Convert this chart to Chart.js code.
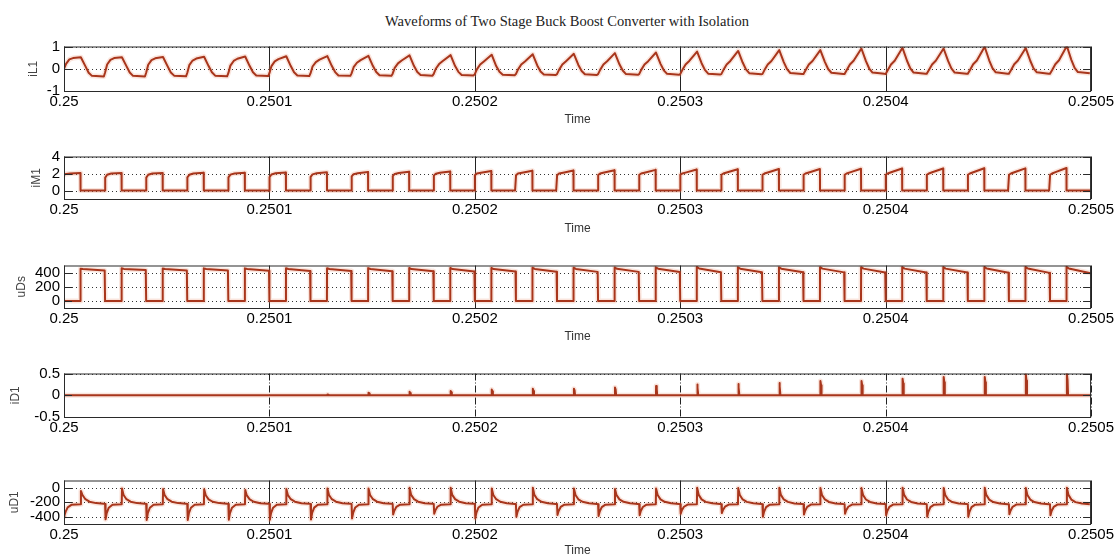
<!DOCTYPE html>
<html>
<head>
<meta charset="utf-8">
<title>Waveforms of Two Stage Buck Boost Converter with Isolation</title>
<script src="https://cdn.jsdelivr.net/npm/chart.js@4.4.0/dist/chart.umd.min.js"></script>
<style>
  body { margin: 0; background: #fff; width: 1116px; height: 558px; position: relative; overflow: hidden; }
  .fig-title { position: absolute; left: 9px; width: 1116px; top: 13px; line-height: 16px; text-align: center;
               font-family: 'Liberation Serif', 'Times New Roman', serif; font-size: 14.5px; color: #222; }
  canvas { position: absolute; left: 0; }
</style>
</head>
<body>
<div class="fig-title">Waveforms of Two Stage Buck Boost Converter with Isolation</div>
<canvas id="iL1Chart" width="1116" height="92" style="top:35px"></canvas>
<canvas id="iM1Chart" width="1116" height="91" style="top:145px"></canvas>
<canvas id="uDsChart" width="1116" height="90" style="top:254px"></canvas>
<canvas id="iD1Chart" width="1116" height="85" style="top:362px"></canvas>
<canvas id="uD1Chart" width="1116" height="89" style="top:469px"></canvas>
<script>
// time axis (25 switching cycles of 20 us)
const startTime = 0.25;
const period = 0.00002;
const timeTicks = [0.25, 0.2501, 0.2502, 0.2503, 0.2504, 0.2505];
const timeTickLabels = ['0.25', '0.2501', '0.2502', '0.2503', '0.2504', '0.2505'];

// iL1 - phase of each point in a cycle, one row of values per cycle
const iL1Range = [-1, 1];
const iL1Ticks = [-1, 0, 1];
const iL1TickLabels = ['-1', '0', '1'];
const iL1Phase = [0.00, 0.05, 0.13, 0.22, 0.41, 0.52, 0.60, 0.68, 0.97];
const iL1Cycles = [
  [0.00, 0.22, 0.42, 0.48, 0.52, 0.12, -0.18, -0.32, -0.35],
  [-0.17, 0.19, 0.40, 0.48, 0.52, 0.12, -0.17, -0.32, -0.35],
  [-0.18, 0.18, 0.39, 0.47, 0.53, 0.12, -0.17, -0.31, -0.34],
  [-0.19, 0.16, 0.37, 0.46, 0.54, 0.12, -0.16, -0.31, -0.34],
  [-0.20, 0.14, 0.35, 0.45, 0.55, 0.12, -0.16, -0.30, -0.33],
  [-0.20, 0.12, 0.33, 0.43, 0.56, 0.12, -0.16, -0.30, -0.33],
  [-0.21, 0.10, 0.30, 0.41, 0.57, 0.12, -0.15, -0.30, -0.32],
  [-0.21, 0.07, 0.27, 0.39, 0.58, 0.12, -0.15, -0.29, -0.32],
  [-0.22, 0.04, 0.24, 0.37, 0.60, 0.12, -0.15, -0.28, -0.31],
  [-0.23, 0.00, 0.21, 0.35, 0.61, 0.12, -0.14, -0.28, -0.30],
  [-0.24, -0.03, 0.19, 0.33, 0.63, 0.12, -0.14, -0.27, -0.29],
  [-0.24, -0.04, 0.19, 0.33, 0.65, 0.15, -0.12, -0.26, -0.28],
  [-0.24, -0.05, 0.19, 0.34, 0.67, 0.17, -0.10, -0.25, -0.28],
  [-0.24, -0.05, 0.19, 0.34, 0.70, 0.20, -0.08, -0.24, -0.27],
  [-0.24, -0.05, 0.19, 0.34, 0.73, 0.22, -0.07, -0.23, -0.27],
  [-0.24, -0.06, 0.19, 0.35, 0.77, 0.25, -0.05, -0.22, -0.26],
  [-0.24, -0.06, 0.19, 0.35, 0.80, 0.28, -0.03, -0.20, -0.25],
  [-0.24, -0.06, 0.19, 0.35, 0.84, 0.30, -0.02, -0.19, -0.24],
  [-0.24, -0.07, 0.19, 0.35, 0.84, 0.31, -0.01, -0.18, -0.24],
  [-0.24, -0.07, 0.19, 0.36, 0.91, 0.34, 0.01, -0.17, -0.23],
  [-0.24, -0.07, 0.19, 0.36, 0.94, 0.36, 0.02, -0.17, -0.22],
  [-0.23, -0.07, 0.19, 0.36, 0.91, 0.35, 0.02, -0.17, -0.22],
  [-0.23, -0.07, 0.20, 0.37, 0.99, 0.38, 0.03, -0.16, -0.22],
  [-0.23, -0.07, 0.20, 0.37, 0.93, 0.36, 0.02, -0.16, -0.22],
  [-0.23, -0.07, 0.20, 0.38, 1.02, 0.40, 0.04, -0.15, -0.20]
];

// iM1 (switch current)
const iM1Range = [-1, 4];
const iM1Ticks = [0, 2, 4];
const iM1TickLabels = ['0', '2', '4'];
const iM1Phase = [0.00, 0.003, 0.05, 0.15, 0.40, 0.403, 0.98];
const iM1Cycles = [
  [1.85, 1.85, 1.95, 2.00, 2.05, 0, 0],
  [0, 1.52, 1.85, 2.00, 2.05, 0, 0],
  [0, 1.52, 1.85, 2.00, 2.06, 0, 0],
  [0, 1.55, 1.85, 2.00, 2.08, 0, 0],
  [0, 1.55, 1.87, 2.01, 2.10, 0, 0],
  [0, 1.58, 1.88, 2.02, 2.12, 0, 0],
  [0, 1.60, 1.90, 2.03, 2.14, 0, 0],
  [0, 1.65, 1.92, 2.04, 2.17, 0, 0],
  [0, 1.70, 1.95, 2.06, 2.20, 0, 0],
  [0, 1.75, 1.98, 2.08, 2.24, 0, 0],
  [0, 1.79, 2.00, 2.10, 2.29, 0, 0],
  [0, 1.80, 2.00, 2.10, 2.32, 0, 0],
  [0, 1.80, 2.00, 2.10, 2.35, 0, 0],
  [0, 1.82, 2.00, 2.12, 2.39, 0, 0],
  [0, 1.85, 2.00, 2.12, 2.43, 0, 0],
  [0, 1.88, 2.00, 2.13, 2.48, 0, 0],
  [0, 1.85, 2.00, 2.14, 2.50, 0, 0],
  [0, 1.85, 2.00, 2.15, 2.52, 0, 0],
  [0, 1.85, 2.00, 2.15, 2.53, 0, 0],
  [0, 1.85, 2.00, 2.16, 2.56, 0, 0],
  [0, 1.85, 2.00, 2.17, 2.58, 0, 0],
  [0, 1.85, 2.00, 2.17, 2.58, 0, 0],
  [0, 1.85, 2.00, 2.18, 2.62, 0, 0],
  [0, 1.85, 2.00, 2.18, 2.60, 0, 0],
  [0, 1.85, 2.00, 2.19, 2.64, 0, 0]
];

// uDs (switch voltage)
const uDsRange = [-100, 500];
const uDsTicks = [0, 200, 400];
const uDsTickLabels = ['0', '200', '400'];
const uDsPhase = [0.00, 0.40, 0.403, 0.46, 0.99];
const uDsCycles = [
  [0, 0, 455, 450, 430], [0, 0, 460, 452, 435], [0, 0, 458, 450, 430],
  [0, 0, 460, 450, 428], [0, 0, 460, 450, 425], [0, 0, 462, 450, 424],
  [0, 0, 462, 450, 422], [0, 0, 463, 450, 420], [0, 0, 465, 450, 418],
  [0, 0, 465, 450, 416], [0, 0, 466, 450, 414], [0, 0, 468, 452, 412],
  [0, 0, 470, 452, 410], [0, 0, 472, 453, 410], [0, 0, 475, 455, 408],
  [0, 0, 480, 458, 406], [0, 0, 475, 455, 405], [0, 0, 475, 455, 404],
  [0, 0, 476, 456, 403], [0, 0, 476, 456, 402], [0, 0, 478, 456, 401],
  [0, 0, 478, 456, 400], [0, 0, 480, 458, 398], [0, 0, 480, 457, 396],
  [0, 0, 482, 458, 392]
];

// iD1 (diode current spikes)
const iD1Range = [-0.5, 0.5];
const iD1Ticks = [-0.5, 0, 0.5];
const iD1TickLabels = ['-0.5', '0', '0.5'];
const iD1Phase = [0.00, 0.41, 0.412, 0.428, 0.44, 0.98];
const iD1Cycles = [
  [0, 0, 0, 0, 0, 0], [0, 0, 0, 0, 0, 0], [0, 0, 0, 0, 0, 0],
  [0, 0, 0, 0, 0, 0], [0, 0, 0, 0, 0, 0], [0, 0, 0, 0, 0, 0],
  [0, 0, 0.02, 0.01, 0, 0], [0, 0, 0.06, 0.04, 0, 0], [0, 0, 0.08, 0.05, 0, 0],
  [0, 0, 0.10, 0.07, 0, 0], [0, 0, 0.13, 0.09, 0, 0], [0, 0, 0.15, 0.10, 0, 0],
  [0, 0, 0.15, 0.11, 0, 0], [0, 0, 0.18, 0.13, 0, 0], [0, 0, 0.21, 0.14, 0, 0],
  [0, 0, 0.25, 0.17, 0, 0], [0, 0, 0.26, 0.18, 0, 0], [0, 0, 0.28, 0.20, 0, 0],
  [0, 0, 0.33, 0.23, 0, 0], [0, 0, 0.33, 0.23, 0, 0], [0, 0, 0.38, 0.27, 0, 0],
  [0, 0, 0.42, 0.30, 0, 0], [0, 0, 0.42, 0.30, 0, 0], [0, 0, 0.48, 0.34, 0, 0],
  [0, 0, 0.49, 0.35, 0, 0]
];

// uD1 (diode voltage)
const uD1Range = [-500, 100];
const uD1Ticks = [-400, -200, 0];
const uD1TickLabels = ['-400', '-200', '0'];
const uD1Phase = [0.00, 0.012, 0.04, 0.09, 0.18, 0.405, 0.412, 0.45, 0.52, 0.62, 0.78, 0.97];
const uD1Cycles = [
  [-395, -380, -330, -270, -236, -228, -44, -100, -158, -192, -212, -222],
  [-225, -436, -350, -275, -235, -228, -9, -100, -158, -192, -212, -222],
  [-225, -445, -352, -276, -235, -228, -17, -102, -158, -192, -212, -222],
  [-225, -445, -352, -276, -235, -228, -22, -104, -160, -193, -212, -222],
  [-225, -440, -350, -275, -235, -228, -30, -106, -160, -193, -213, -222],
  [-225, -440, -350, -275, -235, -228, -17, -102, -158, -192, -213, -222],
  [-225, -438, -348, -274, -235, -228, -9, -100, -158, -192, -213, -222],
  [-225, -423, -342, -272, -234, -228, -9, -100, -158, -192, -213, -222],
  [-225, -370, -318, -264, -233, -227, 0, -98, -157, -192, -213, -222],
  [-225, -358, -312, -262, -233, -227, 0, -98, -157, -192, -213, -222],
  [-225, -423, -342, -272, -234, -227, -9, -100, -158, -193, -214, -223],
  [-225, -400, -332, -268, -234, -227, 0, -98, -158, -193, -214, -223],
  [-225, -375, -320, -265, -233, -227, -9, -100, -159, -193, -214, -223],
  [-226, -390, -327, -267, -233, -227, -17, -102, -160, -194, -214, -223],
  [-226, -380, -322, -266, -233, -227, -9, -100, -160, -194, -215, -224],
  [-226, -357, -311, -262, -232, -226, 0, -98, -160, -195, -215, -224],
  [-226, -349, -308, -261, -232, -226, -5, -99, -161, -195, -215, -224],
  [-226, -401, -332, -268, -233, -226, 0, -98, -161, -195, -216, -224],
  [-226, -370, -318, -264, -232, -226, -4, -99, -161, -196, -216, -225],
  [-226, -357, -311, -262, -232, -226, -5, -99, -162, -196, -216, -225],
  [-227, -379, -321, -265, -232, -226, 0, -98, -162, -196, -216, -225],
  [-227, -401, -332, -268, -233, -226, -3, -99, -162, -197, -217, -225],
  [-227, -401, -332, -268, -233, -226, 0, -98, -163, -197, -217, -226],
  [-227, -366, -316, -263, -232, -226, -4, -99, -163, -197, -217, -226],
  [-227, -379, -321, -265, -232, -226, 0, -98, -163, -198, -218, -226]
];

// turn the per-cycle rows into {x, y} points on the time axis
function buildWave(phases, cycles) {
  const points = [];
  cycles.forEach((row, k) => {
    row.forEach((v, j) => {
      points.push({ x: startTime + (k + phases[j]) * period, y: v });
    });
  });
  return points;
}

// box, grid lines and inward tick marks like the matlab axes
const frameLines = {
  id: 'frameLines',
  beforeDatasetsDraw(chart, args, opts) {
    const { ctx, chartArea, scales } = chart;
    const { left, right, top, bottom } = chartArea;
    ctx.save();
    ctx.lineWidth = 1;
    ctx.strokeStyle = '#333';
    ctx.setLineDash([1, 3]);
    opts.yTicks.forEach(v => {
      const py = Math.round(scales.y.getPixelForValue(v)) + 0.5;
      ctx.beginPath();
      ctx.moveTo(left, py);
      ctx.lineTo(right, py);
      ctx.stroke();
    });
    ctx.strokeStyle = '#222';
    ctx.setLineDash(opts.xDash);
    timeTicks.forEach(v => {
      const px = Math.round(scales.x.getPixelForValue(v)) + 0.5;
      ctx.beginPath();
      ctx.moveTo(px, top);
      ctx.lineTo(px, bottom);
      ctx.stroke();
    });
    ctx.restore();
  },
  afterDatasetsDraw(chart, args, opts) {
    const { ctx, chartArea, scales } = chart;
    const { left, right, top, bottom } = chartArea;
    ctx.save();
    ctx.lineWidth = 1;
    ctx.strokeStyle = '#2a2a2a';
    ctx.strokeRect(left + 0.5, top + 0.5, right - left - 1, bottom - top);
    opts.yTicks.forEach(v => {
      const py = Math.round(scales.y.getPixelForValue(v)) + 0.5;
      ctx.beginPath();
      ctx.moveTo(left, py);
      ctx.lineTo(left + 8, py);
      ctx.moveTo(right - 8, py);
      ctx.lineTo(right, py);
      ctx.stroke();
    });
    ctx.restore();
  }
};

function renderWaveChart(id, name, points, yRange, yTicks, yTickLabels, titlePad, xHeight, showTime, xDash) {
  const ctx = document.getElementById(id).getContext('2d');
  new Chart(ctx, {
    type: 'line',
    data: {
      datasets: [
        { data: points, borderColor: '#a8361c', borderWidth: 2, borderJoinStyle: 'round', pointRadius: 0, tension: 0 },
        { data: points.slice(), borderColor: 'rgba(236,150,120,0.25)', borderWidth: 5, borderJoinStyle: 'round', pointRadius: 0, tension: 0 }
      ]
    },
    options: {
      responsive: false,
      animation: false,
      events: [],
      layout: { padding: { top: 10, right: 24, bottom: 0, left: 0 } },
      plugins: {
        legend: { display: false },
        tooltip: { enabled: false },
        frameLines: { yTicks: yTicks, xDash: xDash }
      },
      scales: {
        x: {
          type: 'linear',
          min: timeTicks[0],
          max: timeTicks[timeTicks.length - 1],
          afterBuildTicks: s => { s.ticks = timeTicks.map(v => ({ value: v })); },
          afterFit: s => { s.height = xHeight; },
          grid: { display: false, drawTicks: false },
          border: { display: false },
          ticks: {
            autoSkip: false, maxRotation: 0, padding: 2, color: '#000',
            font: { family: 'Liberation Sans', size: 15 },
            callback: (v, i) => timeTickLabels[i]
          },
          title: {
            display: showTime, text: 'Time', color: '#333',
            font: { family: 'Liberation Sans', size: 12 },
            padding: { top: 0, bottom: 0 }
          }
        },
        y: {
          min: yRange[0],
          max: yRange[1],
          afterBuildTicks: s => { s.ticks = yTicks.map(v => ({ value: v })); },
          afterFit: s => { s.width = 64; },
          grid: { display: false, drawTicks: false },
          border: { display: false },
          ticks: {
            autoSkip: false, autoSkipPadding: 0, padding: 4, color: '#000',
            font: { family: 'Liberation Sans', size: 15, lineHeight: 1 },
            callback: (v, i) => yTickLabels[i]
          },
          title: {
            display: true, text: name, color: '#444',
            font: { family: 'Liberation Sans', size: 12 },
            padding: { top: titlePad, bottom: 0 }
          }
        }
      }
    },
    plugins: [frameLines]
  });
}

document.addEventListener('DOMContentLoaded', () => {
  renderWaveChart('iL1Chart', 'iL1', buildWave(iL1Phase, iL1Cycles), iL1Range, iL1Ticks, iL1TickLabels, 26, 36, true, []);
  renderWaveChart('iM1Chart', 'iM1', buildWave(iM1Phase, iM1Cycles), iM1Range, iM1Ticks, iM1TickLabels, 29, 37, true, []);
  renderWaveChart('uDsChart', 'uDs', buildWave(uDsPhase, uDsCycles), uDsRange, uDsTicks, uDsTickLabels, 14, 36, true, []);
  renderWaveChart('iD1Chart', 'iD1', buildWave(iD1Phase, iD1Cycles), iD1Range, iD1Ticks, iD1TickLabels, 8, 30, false, [7, 2, 1, 2]);
  renderWaveChart('uD1Chart', 'uD1', buildWave(uD1Phase, uD1Cycles), uD1Range, uD1Ticks, uD1TickLabels, 7, 34, true, []);
});
</script>
</body>
</html>
